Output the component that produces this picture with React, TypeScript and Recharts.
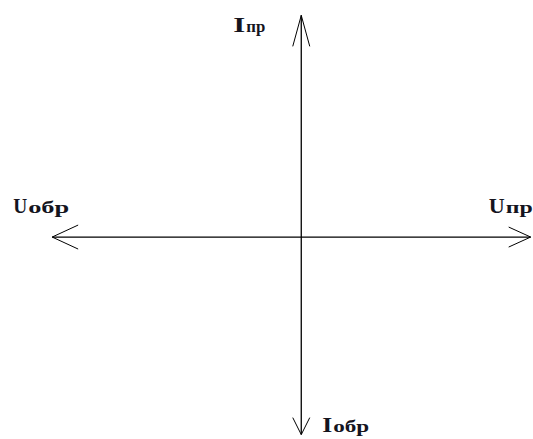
import { ComposedChart, Line, XAxis, YAxis, LabelList } from "recharts";

// voltage axis (U): reverse end on the left, forward end on the right
const uAxis = [
  { x: -10.75, y: 0, label: "Uобр" },
  { x: 9.9, y: 0, label: "Uпр" },
];

// current axis (I): forward end at the top, reverse end at the bottom
const iAxis = [
  { x: 0, y: 10.1, label: "Iпр" },
  { x: 0, y: -9, label: "Iобр" },
];

const xDomain = [-13, 10];
const yDomain = [-9.2, 10.8];

// where each caption sits relative to its arrow tip
const placement: Record<string, { dx: number; dy: number; w1: number; w2: number }> = {
  "Iпр": { dx: -68, dy: 17, w1: 12, w2: 19 },
  "Uобр": { dx: -39, dy: -24, w1: 14, w2: 41 },
  "Uпр": { dx: -42, dy: -24, w1: 16, w2: 27 },
  "Iобр": { dx: 21, dy: -3, w1: 10, w2: 36 },
};

const renderLabel = (props: any) => {
  const { x, y, value } = props;
  const p = placement[value];
  if (!p) return null;
  const head = String(value).slice(0, 1);
  const tail = String(value).slice(1);
  return (
    <g fontFamily="'Liberation Serif', serif" fontWeight="bold" fill="#14141e">
      <text x={x + p.dx} y={y + p.dy} fontSize={21} textLength={p.w1} lengthAdjust="spacingAndGlyphs">
        {head}
      </text>
      <text x={x + p.dx + p.w1 + 1} y={y + p.dy} fontSize={16} textLength={p.w2} lengthAdjust="spacingAndGlyphs">
        {tail}
      </text>
    </g>
  );
};

function Head({ id, len, half }: { id: string; len: number; half: number }) {
  return (
    <marker
      id={id}
      markerUnits="userSpaceOnUse"
      viewBox={`0 0 ${len} ${half * 2}`}
      markerWidth={len}
      markerHeight={half * 2}
      refX={len}
      refY={half}
      orient="auto-start-reverse"
      overflow="visible"
    >
      <path d={`M0,0 L${len},${half} L0,${half * 2}`} fill="none" stroke="#000" strokeWidth={1} />
    </marker>
  );
}

export default function App() {
  return (
    <div style={{ position: "absolute", left: 0, top: 0, background: "#fff" }}>
      <ComposedChart width={533} height={439} margin={{ top: 0, right: 0, bottom: 0, left: 0 }}>
        <defs>
          <Head id="uStart" len={26} half={12} />
          <Head id="uEnd" len={22} half={10} />
          <Head id="iStart" len={31} half={8.5} />
          <Head id="iEnd" len={17} half={8.5} />
        </defs>
        <XAxis dataKey="x" type="number" domain={xDomain} hide />
        <YAxis type="number" domain={yDomain} hide />
        <Line
          data={uAxis}
          dataKey="y"
          type="linear"
          stroke="#000"
          strokeWidth={1.3}
          dot={false}
          activeDot={false}
          markerStart="url(#uStart)"
          markerEnd="url(#uEnd)"
          isAnimationActive={false}
        >
          <LabelList dataKey="label" content={renderLabel} />
        </Line>
        <Line
          data={iAxis}
          dataKey="y"
          type="linear"
          stroke="#000"
          strokeWidth={1.3}
          dot={false}
          activeDot={false}
          markerStart="url(#iStart)"
          markerEnd="url(#iEnd)"
          isAnimationActive={false}
        >
          <LabelList dataKey="label" content={renderLabel} />
        </Line>
      </ComposedChart>
    </div>
  );
}
